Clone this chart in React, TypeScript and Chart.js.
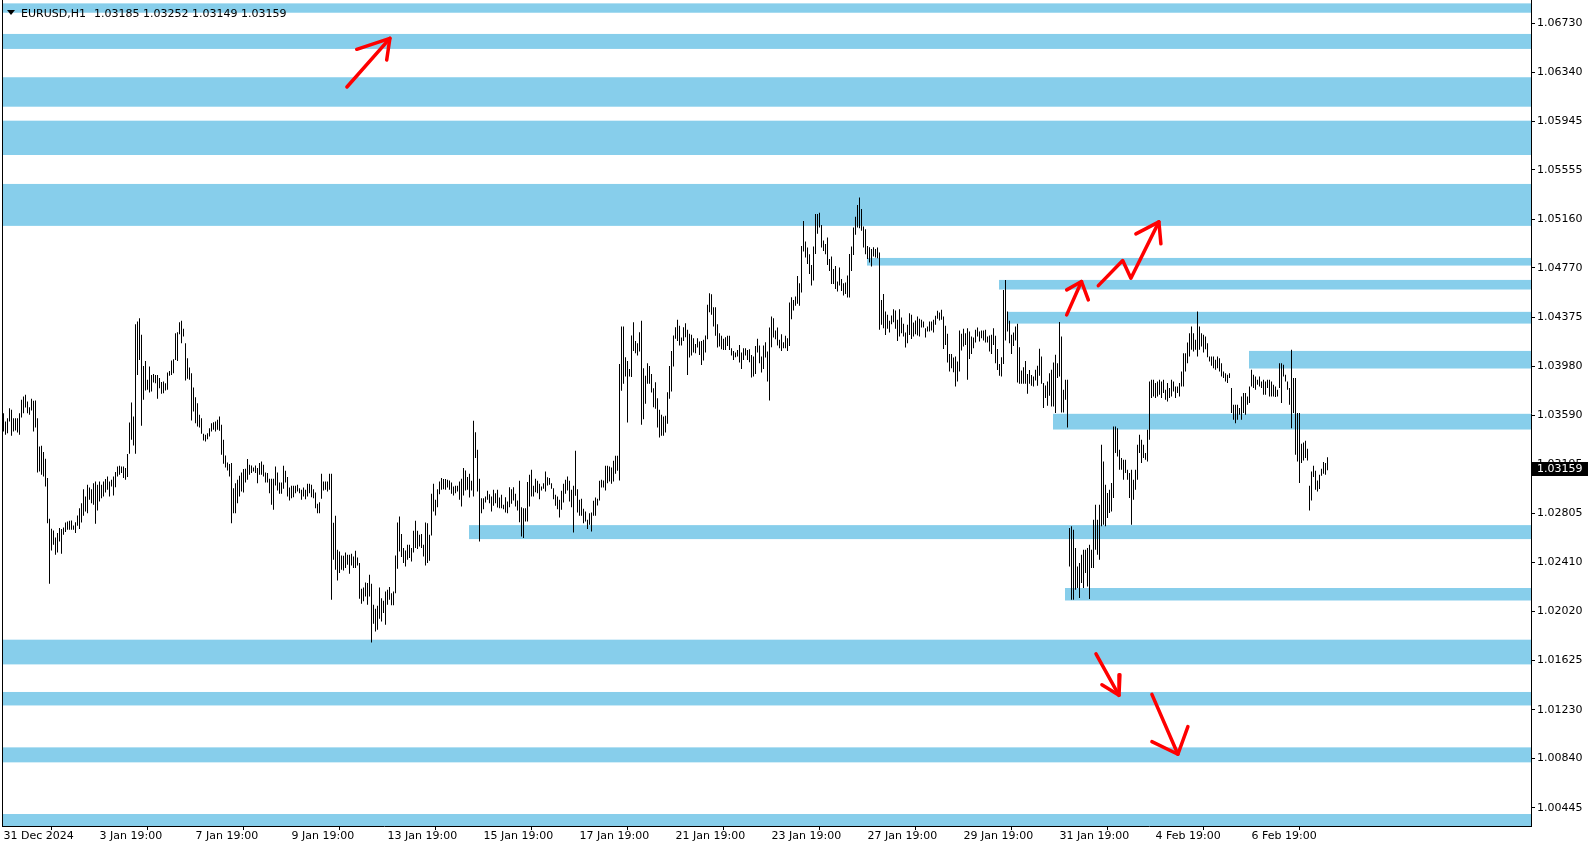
import React, { useEffect, useRef } from "react";
import { Chart, registerables } from "chart.js";

Chart.register(...registerables);

// ---- EURUSD H1 bars (index 0 = 31 Dec 2024), high / low prices ----
const highs = [
1.03606,1.03539,1.03566,1.03646,1.03633,1.03566,1.03566,1.03566,1.03606,1.03713,
1.03740,1.03753,1.03700,1.03654,1.03721,1.03705,1.03708,1.03566,1.03339,1.03345,
1.03294,1.03240,1.03086,1.02760,1.02680,1.02666,1.02610,1.02645,1.02685,1.02677,
1.02690,1.02730,1.02738,1.02744,1.02746,1.02706,1.02733,1.02787,1.02845,1.02885,
1.02997,1.02939,1.03032,1.03011,1.02997,1.03045,1.03059,1.03032,1.03059,1.03032,
1.03059,1.03078,1.03099,1.03059,1.03072,1.03099,1.03134,1.03179,1.03184,1.03179,
1.03179,1.03166,1.03278,1.03531,1.03692,1.03579,1.04319,1.04340,1.04367,1.04234,
1.03985,1.04025,1.03873,1.03980,1.03913,1.03921,1.03913,1.03913,1.03887,1.03855,
1.03860,1.03846,1.03932,1.03945,1.04028,1.04039,1.04247,1.04255,1.04335,1.04346,
1.04282,1.04167,1.04047,1.03972,1.03927,1.03812,1.03734,1.03686,1.03593,1.03566,
1.03441,1.03433,1.03446,1.03486,1.03526,1.03534,1.03539,1.03553,1.03579,1.03513,
1.03393,1.03267,1.03211,1.03198,1.03206,1.03005,1.03045,1.03072,1.03104,1.03131,
1.03158,1.03160,1.03238,1.03192,1.03187,1.03171,1.03187,1.03166,1.03206,1.03219,
1.03192,1.03131,1.03126,1.03080,1.03080,1.03080,1.03179,1.03131,1.03051,1.03051,
1.03184,1.03144,1.03094,1.03011,1.03024,1.03024,1.03024,1.03032,1.03005,1.02992,
1.03011,1.02992,1.03040,1.03040,1.03032,1.02997,1.02971,1.02880,1.02893,1.03120,
1.03059,1.03059,1.03059,1.03120,1.03120,1.02728,1.02784,1.02511,1.02498,1.02466,
1.02463,1.02490,1.02471,1.02471,1.02479,1.02458,1.02504,1.02450,1.02405,1.02199,
1.02210,1.02250,1.02245,1.02311,1.02240,1.02071,1.02039,1.02063,1.02210,1.02124,
1.02103,1.02178,1.02191,1.02213,1.02164,1.02178,1.02466,1.02730,1.02778,1.02637,
1.02525,1.02506,1.02552,1.02552,1.02525,1.02664,1.02744,1.02664,1.02632,1.02637,
1.02552,1.02730,1.02725,1.02632,1.02960,1.03040,1.02912,1.02997,1.03059,1.03086,
1.03078,1.03078,1.03072,1.03067,1.03051,1.03019,1.03024,1.03024,1.03059,1.03080,
1.03166,1.03147,1.03094,1.03120,1.03064,1.03545,1.03454,1.03313,1.03080,1.02925,
1.02925,1.02939,1.02984,1.02957,1.02939,1.02992,1.02965,1.02992,1.02931,1.02952,
1.02872,1.02933,1.02899,1.03013,1.02997,1.03013,1.02960,1.02907,1.03064,1.02853,
1.02845,1.02845,1.03054,1.03112,1.03152,1.03024,1.03080,1.03064,1.03040,1.03019,
1.03045,1.03139,1.03093,1.03086,1.03045,1.03005,1.02952,1.02939,1.02912,1.02984,
1.03040,1.03072,1.03099,1.03064,1.02992,1.03024,1.03304,1.02997,1.02912,1.02920,
1.02840,1.02819,1.02752,1.02805,1.02811,1.02904,1.02931,1.02920,1.03064,1.03072,
1.03067,1.03184,1.03184,1.03179,1.03171,1.03224,1.03264,1.03264,1.04001,1.04300,
1.04300,1.04055,1.04025,1.03961,1.04228,1.04335,1.04185,1.04167,1.04255,1.04346,
1.03967,1.03905,1.04007,1.03985,1.03921,1.03806,1.03854,1.03726,1.03633,1.03593,
1.03579,1.03585,1.03774,1.03985,1.04105,1.04228,1.04295,1.04354,1.04306,1.04212,
1.04295,1.04327,1.04274,1.04242,1.04234,1.04207,1.04161,1.04207,1.04180,1.04185,
1.04194,1.04228,1.04474,1.04567,1.04559,1.04455,1.04455,1.04319,1.04247,1.04226,
1.04202,1.04215,1.04226,1.04226,1.04127,1.04105,1.04092,1.04113,1.04153,1.04092,
1.04127,1.04127,1.04113,1.04119,1.04073,1.04060,1.04145,1.04202,1.04148,1.04060,
1.04148,1.04175,1.04100,1.04292,1.04380,1.04367,1.04268,1.04292,1.04194,1.04239,
1.04175,1.04226,1.04207,1.04493,1.04535,1.04514,1.04541,1.04706,1.04647,1.04946,
1.05147,1.04981,1.04933,1.04880,1.04794,1.04941,1.05203,1.05203,1.05213,1.05115,
1.04989,1.04962,1.05013,1.04842,1.04861,1.04762,1.04786,1.04661,1.04773,1.04682,
1.04647,1.04653,1.04709,1.04882,1.04941,1.05093,1.05181,1.05275,1.05334,1.05243,
1.05101,1.05080,1.04946,1.04936,1.04922,1.04936,1.04922,1.04933,1.04893,1.04514,
1.04562,1.04420,1.04394,1.04346,1.04388,1.04439,1.04428,1.04354,1.04439,1.04372,
1.04322,1.04252,1.04314,1.04407,1.04394,1.04332,1.04348,1.04380,1.04362,1.04354,
1.04340,1.04287,1.04300,1.04340,1.04340,1.04354,1.04386,1.04426,1.04412,1.04434,
1.04380,1.04306,1.04242,1.04081,1.04081,1.04052,1.04060,1.04020,1.04268,1.04242,
1.04282,1.04247,1.04287,1.04260,1.04220,1.04212,1.04274,1.04292,1.04260,1.04268,
1.04268,1.04274,1.04220,1.04228,1.04234,1.04287,1.04226,1.04121,1.04001,1.04055,
1.04594,1.04674,1.04420,1.04346,1.04234,1.04252,1.04300,1.04322,1.04135,1.03948,
1.03975,1.04025,1.03921,1.03953,1.03913,1.03900,1.03954,1.03986,1.04122,1.04060,
1.03847,1.03828,1.03860,1.03927,1.03954,1.04012,1.04074,1.04007,1.04336,1.04221,
1.03793,1.03874,1.03874,1.02685,1.02699,1.02672,1.02525,1.02378,1.02405,1.02472,
1.02512,1.02512,1.02525,1.02552,1.02512,1.02752,1.02872,1.02752,1.02872,1.03353,
1.03219,1.03033,1.02966,1.02992,1.03046,1.03500,1.03500,1.03486,1.03313,1.03246,
1.03233,1.03233,1.03153,1.03126,1.03153,1.03073,1.03153,1.03353,1.03433,1.03393,
1.03353,1.03286,1.03473,1.03860,1.03874,1.03874,1.03847,1.03860,1.03874,1.03860,
1.03874,1.03793,1.03847,1.03807,1.03874,1.03860,1.03820,1.03820,1.03847,1.03940,
1.04087,1.04087,1.04173,1.04247,1.04301,1.04247,1.04194,1.04421,1.04301,1.04247,
1.04234,1.04221,1.04167,1.04060,1.04060,1.04060,1.04034,1.04060,1.04047,1.04007,
1.03940,1.03927,1.03914,1.03927,1.03807,1.03673,1.03673,1.03673,1.03647,1.03740,
1.03767,1.03767,1.03740,1.03820,1.03954,1.03914,1.03900,1.03874,1.03900,1.03860,
1.03874,1.03860,1.03874,1.03874,1.03860,1.03834,1.03820,1.03793,1.04007,1.04007,
1.03994,1.03914,1.03860,1.03807,1.04114,1.03887,1.03887,1.03607,1.03607,1.03361,
1.03371,1.03385,1.03321,1.03024,1.03139,1.03185,1.03144,1.03067,1.03112,1.03161,
1.03214,1.03206,1.03252
];

const lows = [
1.03459,1.03433,1.03446,1.03539,1.03425,1.03459,1.03467,1.03451,1.03433,1.03571,
1.03606,1.03652,1.03606,1.03593,1.03628,1.03459,1.03491,1.03131,1.03139,1.03112,
1.03099,1.03019,1.02725,1.02239,1.02506,1.02552,1.02471,1.02490,1.02578,1.02479,
1.02632,1.02653,1.02672,1.02672,1.02672,1.02672,1.02645,1.02704,1.02677,1.02730,
1.02784,1.02819,1.02805,1.02912,1.02885,1.02872,1.02720,1.02827,1.02899,1.02925,
1.02939,1.02971,1.02992,1.02939,1.03019,1.02947,1.03013,1.03099,1.03112,1.03126,
1.03086,1.03072,1.03094,1.03280,1.03393,1.03347,1.03280,1.03913,1.04033,1.03505,
1.03713,1.03788,1.03793,1.03772,1.03780,1.03852,1.03846,1.03721,1.03806,1.03761,
1.03766,1.03788,1.03793,1.03905,1.03913,1.03927,1.04033,1.04025,1.04239,1.04167,
1.04220,1.03868,1.03881,1.03873,1.03547,1.03620,1.03526,1.03499,1.03491,1.03441,
1.03387,1.03379,1.03398,1.03419,1.03459,1.03473,1.03459,1.03473,1.03465,1.03272,
1.03200,1.03171,1.03147,1.03099,1.02725,1.02805,1.02805,1.02885,1.02939,1.02979,
1.02971,1.03051,1.03072,1.03112,1.03126,1.03139,1.03126,1.03045,1.03112,1.03112,
1.03099,1.03051,1.03051,1.02965,1.02872,1.02832,1.03027,1.02987,1.02960,1.02960,
1.03000,1.03051,1.02939,1.02907,1.02925,1.02933,1.02965,1.02979,1.02965,1.02912,
1.02939,1.02917,1.02939,1.02965,1.02933,1.02925,1.02845,1.02805,1.02805,1.02920,
1.02987,1.02992,1.02979,1.02992,1.02111,1.02431,1.02351,1.02266,1.02325,1.02351,
1.02346,1.02365,1.02391,1.02319,1.02386,1.02365,1.02365,1.02386,1.02119,1.02079,
1.02098,1.02138,1.02071,1.02138,1.01769,1.01919,1.01857,1.01871,1.01959,1.01937,
1.02004,1.01911,1.02071,1.02111,1.02066,1.02066,1.02164,1.02359,1.02498,1.02453,
1.02405,1.02378,1.02431,1.02445,1.02418,1.02490,1.02525,1.02517,1.02538,1.02525,
1.02458,1.02386,1.02405,1.02423,1.02626,1.02819,1.02787,1.02853,1.02957,1.02992,
1.02997,1.02992,1.03011,1.02992,1.02960,1.02947,1.02965,1.02979,1.02912,1.02859,
1.02947,1.02987,1.02992,1.02931,1.02987,1.02939,1.03246,1.02979,1.02578,1.02805,
1.02837,1.02891,1.02912,1.02885,1.02819,1.02864,1.02885,1.02851,1.02845,1.02845,
1.02837,1.02811,1.02805,1.02853,1.02880,1.02907,1.02859,1.02827,1.02733,1.02618,
1.02605,1.02738,1.02738,1.02859,1.02939,1.02939,1.02973,1.02965,1.02917,1.02987,
1.03000,1.02979,1.03027,1.03032,1.03000,1.02917,1.02864,1.02837,1.02770,1.02832,
1.02891,1.02960,1.02987,1.02899,1.02853,1.02650,1.02944,1.02810,1.02784,1.02784,
1.02725,1.02738,1.02677,1.02712,1.02658,1.02784,1.02784,1.02867,1.02907,1.03011,
1.03011,1.02987,1.03045,1.03059,1.03040,1.03059,1.03120,1.03144,1.03067,1.03785,
1.03841,1.03900,1.03531,1.03900,1.03895,1.04105,1.04087,1.04068,1.04100,1.03513,
1.03558,1.03681,1.03841,1.03841,1.03772,1.03654,1.03641,1.03491,1.03411,1.03425,
1.03425,1.03451,1.03521,1.03721,1.03780,1.03980,1.04202,1.04185,1.04148,1.04148,
1.04185,1.04215,1.03913,1.04052,1.04068,1.04092,1.04087,1.04132,1.04073,1.03993,
1.04028,1.04092,1.04199,1.04415,1.04394,1.04300,1.04226,1.04132,1.04140,1.04119,
1.04113,1.04113,1.04145,1.04113,1.04068,1.04033,1.04055,1.04060,1.04012,1.03961,
1.04033,1.04068,1.04033,1.04015,1.03892,1.03900,1.03921,1.04092,1.04007,1.03932,
1.03961,1.04052,1.03860,1.03708,1.04135,1.04212,1.04199,1.04148,1.04127,1.04105,
1.04127,1.04127,1.04105,1.04145,1.04359,1.04428,1.04466,1.04482,1.04466,1.04573,
1.04901,1.04853,1.04802,1.04722,1.04629,1.04669,1.04882,1.05043,1.05093,1.04933,
1.04906,1.04880,1.04794,1.04746,1.04642,1.04642,1.04602,1.04581,1.04629,1.04586,
1.04549,1.04562,1.04533,1.04533,1.04746,1.04874,1.05035,1.05093,1.05088,1.05067,
1.04933,1.04880,1.04842,1.04813,1.04781,1.04861,1.04853,1.04848,1.04274,1.04314,
1.04287,1.04233,1.04282,1.04252,1.04319,1.04335,1.04282,1.04185,1.04220,1.04247,
1.04220,1.04132,1.04167,1.04233,1.04201,1.04220,1.04239,1.04228,1.04220,1.04292,
1.04292,1.04212,1.04260,1.04260,1.04268,1.04252,1.04314,1.04362,1.04348,1.04354,
1.04121,1.04153,1.04012,1.03940,1.03967,1.03935,1.03820,1.03860,1.03940,1.04108,
1.04140,1.04153,1.03873,1.04041,1.04081,1.04127,1.04172,1.04220,1.04180,1.04207,
1.04188,1.04172,1.04172,1.04100,1.04081,1.04153,1.04007,1.03953,1.03905,1.03900,
1.04001,1.04188,1.04260,1.04167,1.04081,1.04145,1.04188,1.03852,1.03841,1.03841,
1.03841,1.03841,1.03761,1.03841,1.03825,1.03820,1.03868,1.03826,1.03906,1.03842,
1.03647,1.03727,1.03665,1.03745,1.03660,1.03660,1.03607,1.03887,1.03900,1.03612,
1.03612,1.03713,1.03492,1.02378,1.02111,1.02111,1.02191,1.02205,1.02125,1.02245,
1.02205,1.02325,1.02218,1.02117,1.02365,1.02365,1.02512,1.02472,1.02432,1.02699,
1.02712,1.02699,1.02766,1.02806,1.02819,1.02926,1.03286,1.03259,1.03153,1.03153,
1.03073,1.03126,1.03073,1.02926,1.02712,1.02912,1.02992,1.03073,1.03286,1.03206,
1.03246,1.03233,1.03219,1.03393,1.03727,1.03740,1.03727,1.03740,1.03753,1.03727,
1.03767,1.03713,1.03700,1.03727,1.03740,1.03780,1.03727,1.03767,1.03740,1.03820,
1.03820,1.03940,1.04007,1.04060,1.04114,1.04100,1.04114,1.04060,1.04114,1.04141,
1.04093,1.04119,1.04055,1.04020,1.03986,1.03967,1.03954,1.03967,1.03940,1.03900,
1.03887,1.03860,1.03847,1.03887,1.03607,1.03553,1.03526,1.03553,1.03593,1.03553,
1.03607,1.03593,1.03673,1.03687,1.03820,1.03807,1.03793,1.03834,1.03820,1.03807,
1.03753,1.03753,1.03807,1.03740,1.03740,1.03740,1.03735,1.03740,1.03807,1.03687,
1.03900,1.03860,1.03793,1.03673,1.03486,1.03607,1.03273,1.03219,1.03046,1.03206,
1.03227,1.03246,1.03227,1.02827,1.02907,1.03094,1.02992,1.02979,1.02998,1.03104,
1.03120,1.03112,1.03149
];

// ---- time axis ----
const timeTickBars = [0, 48, 96, 144, 192, 240, 288, 336, 384, 432, 480, 528, 576, 624];
const timeTickLabels = [
  "31 Dec 2024", "3 Jan 19:00", "7 Jan 19:00", "9 Jan 19:00", "13 Jan 19:00",
  "15 Jan 19:00", "17 Jan 19:00", "21 Jan 19:00", "23 Jan 19:00", "27 Jan 19:00",
  "29 Jan 19:00", "31 Jan 19:00", "4 Feb 19:00", "6 Feb 19:00"
];

// ---- price axis ----
const priceTicks = [
  1.06730, 1.06340, 1.05945, 1.05555, 1.05160, 1.04770, 1.04375, 1.03980, 1.03590,
  1.03195, 1.02805, 1.02410, 1.02020, 1.01625, 1.01230, 1.00840, 1.00445
];
const priceMin = 1.00298;
const priceMax = 1.06917;

// ---- support / resistance zones (price range, start bar or null = whole chart) ----
const zoneTops = [
  1.06890, 1.06645, 1.06298, 1.05950, 1.05443, 1.04850, 1.04674, 1.04418,
  1.04105, 1.03601, 1.02709, 1.02205, 1.01791, 1.01372, 1.00928, 1.00394
];
const zoneBottoms = [
  1.06815, 1.06525, 1.06062, 1.05675, 1.05107, 1.04789, 1.04597, 1.04324,
  1.03964, 1.03475, 1.02597, 1.02105, 1.01593, 1.01264, 1.00808, 1.00298
];
const zoneStartBars = [
  null, null, null, null, null, 431.75, 497.75, 501.9,
  622.75, 524.75, 232.75, 530.75, null, null, null, null
];

// ---- hand-drawn red arrows (bar, price); null separates strokes ----
const arrowBars = [
  171.7, 193.2, null, 176.6, 193.2, 191.6, null,
  531.6, 539.0, null, 531.6, 539.0, 542.4, null,
  547.4, 559.6, 563.7, 577.7, null, 566.2, 577.7, 578.7, null,
  546.25, 557.75, null, 558.2, 557.75, 549.2, null,
  574.2, 587.2, null, 574.2, 587.2, 592.2
];
const arrowPrices = [
  1.06220, 1.06610, null, 1.06522, 1.06610, 1.06436, null,
  1.04394, 1.04661, null, 1.04594, 1.04661, 1.04514, null,
  1.04628, 1.04829, 1.04688, 1.05139, null, 1.05043, 1.05139, 1.04963, null,
  1.01678, 1.01345, null, 1.01510, 1.01345, 1.01430, null,
  1.01353, 1.00873, null, 1.00974, 1.00873, 1.01094
];

const titleSymbol = "EURUSD,H1";
const titleValues = [1.03185, 1.03252, 1.03149, 1.03159];
const lastClose = 1.03159;

const FONT = '"DejaVu Sans"';

export default function App() {
  const ref = useRef<HTMLCanvasElement | null>(null);

  useEffect(() => {
    document.body.style.margin = "0";
    const canvas = ref.current;
    if (!canvas) return;

    const barData = highs.map((h, i) => ({ x: i, y: [lows[i], h] }));

    const strokes: { x: number; y: number }[][] = [];
    let cur: { x: number; y: number }[] = [];
    arrowBars.forEach((b, k) => {
      if (b === null || arrowPrices[k] === null) {
        if (cur.length) strokes.push(cur);
        cur = [];
      } else {
        cur.push({ x: b as number, y: arrowPrices[k] as number });
      }
    });
    if (cur.length) strokes.push(cur);

    const arrowSets = strokes.map((s) => ({
      type: "line" as const,
      data: s,
      borderColor: "#ff0000",
      borderWidth: 3.5,
      pointRadius: 0,
      pointHitRadius: 0,
      tension: 0,
      fill: false,
      borderCapStyle: "round" as const,
      borderJoinStyle: "round" as const,
      order: 0,
    }));

    const decor = {
      id: "mtDecor",
      beforeDatasetsDraw(chart: any) {
        const { ctx, chartArea, scales } = chart;
        const xs = scales.x;
        const ys = scales.y;
        ctx.save();
        ctx.fillStyle = "#87ceeb";
        for (let k = 0; k < zoneTops.length; k++) {
          const sb = zoneStartBars[k];
          const left = sb === null ? chartArea.left : xs.getPixelForValue(sb);
          const t = Math.max(ys.getPixelForValue(zoneTops[k]), chartArea.top);
          const b = Math.min(ys.getPixelForValue(zoneBottoms[k]), chartArea.bottom);
          ctx.fillRect(left, t, chartArea.right - left, b - t);
        }
        ctx.restore();
      },
      afterDraw(chart: any) {
        const { ctx, chartArea, scales } = chart;
        const ys = scales.y;
        ctx.save();
        // left frame line
        ctx.fillStyle = "#000";
        ctx.fillRect(chartArea.left, chartArea.top, 1, chartArea.bottom - chartArea.top);
        // title
        ctx.beginPath();
        ctx.moveTo(chartArea.left + 5, 10);
        ctx.lineTo(chartArea.left + 13, 10);
        ctx.lineTo(chartArea.left + 9, 15);
        ctx.closePath();
        ctx.fill();
        ctx.font = `11px ${FONT}`;
        ctx.textBaseline = "alphabetic";
        ctx.textAlign = "left";
        ctx.fillText(titleSymbol, chartArea.left + 19, 17);
        ctx.fillText(titleValues.map((v) => v.toFixed(5)).join(" "), chartArea.left + 92, 17);
        // last price tag
        const py = ys.getPixelForValue(lastClose);
        ctx.fillStyle = "#000";
        ctx.fillRect(chartArea.right + 1, Math.round(py) - 7, 56, 14);
        ctx.fillStyle = "#fff";
        ctx.textBaseline = "middle";
        ctx.fillText(lastClose.toFixed(5), chartArea.right + 6, Math.round(py));
        ctx.restore();
      },
    };

    Chart.defaults.font.family = FONT;
    Chart.defaults.font.size = 11;

    const chart = new Chart(canvas, {
      type: "bar",
      data: {
        datasets: [
          ...arrowSets,
          {
            type: "bar",
            data: barData as any,
            backgroundColor: "#000",
            borderWidth: 0,
            barThickness: 1,
            inflateAmount: 0,
            grouped: false,
            order: 1,
          } as any,
        ],
      },
      options: {
        animation: false,
        responsive: false,
        devicePixelRatio: 1,
        events: [],
        layout: { padding: { left: 2, right: 0, top: 0, bottom: 0 } },
        plugins: { legend: { display: false }, tooltip: { enabled: false }, title: { display: false } },
        scales: {
          x: {
            type: "linear",
            min: -0.75,
            max: 763.75,
            offset: false,
            grid: { display: true, drawOnChartArea: false, drawTicks: true, tickLength: 4, color: "#000", lineWidth: 1 },
            border: { display: true, color: "#000", width: 1 },
            ticks: {
              autoSkip: false,
              maxRotation: 0,
              minRotation: 0,
              align: "start",
              padding: 0,
              color: "#000",
              font: { family: FONT, size: 11 },
              callback: (_v: any, idx: number) => timeTickLabels[idx],
            },
            afterBuildTicks: (s: any) => {
              s.ticks = timeTickBars.map((v) => ({ value: v }));
            },
            afterFit: (s: any) => {
              s.height = 24;
              s.paddingLeft = 0;
              s.paddingRight = 0;
            },
          },
          y: {
            type: "linear",
            position: "right",
            min: priceMin,
            max: priceMax,
            grid: { display: true, drawOnChartArea: false, drawTicks: true, tickLength: 4, color: "#000", lineWidth: 1 },
            border: { display: true, color: "#000", width: 1 },
            ticks: {
              autoSkip: false,
              padding: 2,
              color: "#000",
              font: { family: FONT, size: 11 },
              callback: (v: any) => Number(v).toFixed(5),
            },
            afterBuildTicks: (s: any) => {
              s.ticks = priceTicks.map((v) => ({ value: v }));
            },
            afterFit: (s: any) => {
              s.width = 63;
              s.paddingTop = 0;
              s.paddingBottom = 0;
            },
          },
        },
      } as any,
      plugins: [decor],
    });

    return () => chart.destroy();
  }, []);

  return (
    <div style={{ width: 1594, height: 850, position: "relative", background: "#fff" }}>
      <canvas ref={ref} width={1594} height={850} style={{ display: "block", width: 1594, height: 850 }} />
    </div>
  );
}
